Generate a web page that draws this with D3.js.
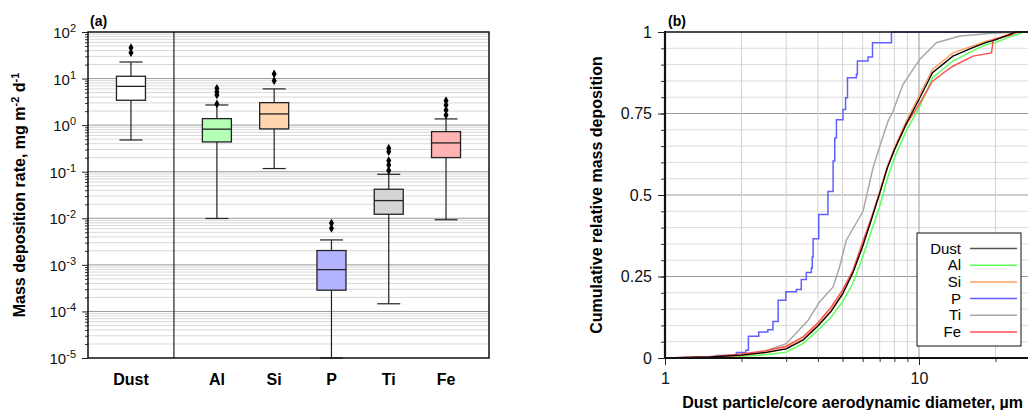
<!DOCTYPE html>
<html>
<head>
<meta charset="utf-8">
<script src="https://cdn.jsdelivr.net/npm/d3@7"></script>
<style>
  body { margin: 0; background: #fff; }
  svg { font-family: "Liberation Sans", Arial, sans-serif; }
</style>
</head>
<body>
<svg id="chart" width="1028" height="410"></svg>
<script>
// ---- panel (a): deposition rate box plots ----
const elements = ["Dust", "Al", "Si", "P", "Ti", "Fe"];
const slots = [0, 1.5, 2.5, 3.5, 4.5, 5.5];
const boxFill = ["#ffffff", "#b3ffb3", "#ffd6b0", "#b3b3ff", "#d4d4d4", "#ffb3b3"];
const whiskerLow = [0.48, 0.0099, 0.117, 0.00001, 0.000146, 0.0093];
const q1 = [3.42, 0.436, 0.83, 0.000286, 0.0122, 0.201];
const median = [6.8, 0.82, 1.74, 0.00079, 0.024, 0.415];
const q3 = [11.2, 1.38, 3.04, 0.00203, 0.042, 0.726];
const whiskerHigh = [22.7, 2.71, 6.0, 0.00343, 0.088, 1.36];
const outliers = [
  [36, 46],
  [2.85, 4.45, 5.2, 6.2],
  [9.0, 12.6],
  [0.0061, 0.0079],
  [0.106, 0.14, 0.173, 0.27, 0.32],
  [1.65, 2.1, 2.7, 3.35]
];
const decades = [-5, -4, -3, -2, -1, 0, 1, 2];

// ---- panel (b): cumulative relative mass deposition ----
const seriesNames = ["Dust", "Al", "Si", "P", "Ti", "Fe"];
const seriesColors = ["#000000", "#5cff5c", "#ffa060", "#6060ff", "#a8a8a8", "#ff5050"];
const dDust = [1, 1.5, 2, 2.5, 3, 3.5, 4, 4.5, 5, 5.5, 6, 6.5, 7, 7.5, 8, 8.9, 10, 11.3, 13.6, 16.3, 18.4, 20, 22.8, 24, 30];
const fDust = [0, 0.003, 0.009, 0.017, 0.028, 0.055, 0.098, 0.142, 0.196, 0.262, 0.342, 0.425, 0.505, 0.582, 0.638, 0.718, 0.793, 0.875, 0.926, 0.952, 0.968, 0.976, 0.993, 1, 1];
const dAl = [1, 1.5, 2, 2.5, 3, 3.5, 4, 4.5, 5, 5.5, 6, 6.5, 7, 7.5, 8, 8.9, 10, 11.3, 13.6, 16.3, 18.4, 20, 22.8, 26, 30];
const fAl = [0, 0.001, 0.005, 0.01, 0.018, 0.045, 0.085, 0.125, 0.172, 0.23, 0.31, 0.39, 0.465, 0.55, 0.614, 0.696, 0.767, 0.86, 0.911, 0.942, 0.962, 0.968, 0.985, 1, 1];
const dSi = [1, 1.5, 2, 2.5, 3, 3.5, 4, 4.5, 5, 5.5, 6, 6.5, 7, 7.5, 8, 8.9, 10, 11.3, 13.6, 16.3, 18.4, 20, 22.8, 23.8, 30];
const fSi = [0, 0.002, 0.008, 0.016, 0.03, 0.058, 0.102, 0.145, 0.2, 0.265, 0.345, 0.43, 0.51, 0.585, 0.644, 0.726, 0.803, 0.885, 0.936, 0.957, 0.972, 0.979, 0.995, 1, 1];
const dP = [1, 1.3, 1.6, 1.91, 2.08, 2.13, 2.34, 2.54, 2.66, 2.79, 2.99, 3.29, 3.44, 3.6, 3.77, 3.8, 3.83, 4.03, 4.38, 4.59, 4.66, 4.73, 5.02, 5.14, 5.23, 5.67, 5.72, 6.3, 6.56, 7.79, 30];
const fP = [0, 0.003, 0.008, 0.017, 0.024, 0.067, 0.08, 0.087, 0.112, 0.177, 0.203, 0.21, 0.241, 0.262, 0.275, 0.31, 0.366, 0.44, 0.511, 0.604, 0.675, 0.731, 0.762, 0.798, 0.86, 0.87, 0.911, 0.923, 0.967, 1, 1];
const dTi = [1, 1.5, 2, 2.4, 3, 3.66, 4.06, 4.59, 4.87, 5.18, 6.02, 6.59, 7.11, 7.55, 7.9, 8.65, 10.06, 11.7, 14.5, 19.5, 25, 30];
const fTi = [0, 0.004, 0.01, 0.018, 0.044, 0.116, 0.172, 0.218, 0.28, 0.362, 0.45, 0.583, 0.665, 0.726, 0.757, 0.839, 0.916, 0.967, 0.988, 0.996, 1, 1];
const dFe = [1, 1.5, 2, 2.5, 3, 3.5, 4, 4.5, 5, 5.5, 6, 6.5, 7, 7.5, 8, 8.9, 10, 11.3, 12.5, 13.6, 16.3, 19.3, 19.6, 22.8, 24.5, 30];
const fFe = [0, 0.004, 0.012, 0.022, 0.036, 0.065, 0.108, 0.155, 0.208, 0.27, 0.355, 0.43, 0.505, 0.585, 0.64, 0.716, 0.777, 0.849, 0.875, 0.895, 0.926, 0.936, 0.977, 0.99, 1, 1];
const fractionTicks = [0, 0.25, 0.5, 0.75, 1];

const svg = d3.select("#chart");

// ================= panel (a) =================
const A = { left: 88, right: 489, top: 32, bottom: 358 };

const xa = d3.scaleLinear().domain([-0.75, 6.25]).range([A.left, A.right]);
const ya = d3.scaleLog().domain([1e-5, 1e2]).range([A.bottom, A.top]);

const ga = svg.append("g");

// grid: minor then major
const minorA = [];
decades.slice(0, -1).forEach(e => {
  for (let m = 2; m <= 9; m++) minorA.push(m * Math.pow(10, e));
});
ga.selectAll(".minA").data(minorA).enter().append("line")
  .attr("x1", A.left).attr("x2", A.right)
  .attr("y1", d => ya(d)).attr("y2", d => ya(d))
  .attr("stroke", "#d8d8d8").attr("stroke-width", 1);
ga.selectAll(".majA").data(decades.slice(1, -1)).enter().append("line")
  .attr("x1", A.left).attr("x2", A.right)
  .attr("y1", d => ya(Math.pow(10, d))).attr("y2", d => ya(Math.pow(10, d)))
  .attr("stroke", "#9a9a9a").attr("stroke-width", 1);

// divider between dust and elements
ga.append("line")
  .attr("x1", xa(0.75)).attr("x2", xa(0.75))
  .attr("y1", A.top).attr("y2", A.bottom)
  .attr("stroke", "#222").attr("stroke-width", 1.2);

// axis ticks
ga.append("g").attr("transform", `translate(${A.left},0)`)
  .call(d3.axisLeft(ya).tickValues(minorA).tickSize(3).tickFormat(""))
  .call(g => g.select(".domain").remove())
  .selectAll("line").attr("stroke", "#333");
ga.append("g").attr("transform", `translate(${A.left},0)`)
  .call(d3.axisLeft(ya).tickValues(decades.map(e => Math.pow(10, e))).tickSize(6).tickFormat(""))
  .call(g => g.select(".domain").remove())
  .selectAll("line").attr("stroke", "#222");

// tick labels 10^n
const labA = ga.selectAll(".labA").data(decades).enter().append("text")
  .attr("x", A.left - 12)
  .attr("y", d => ya(Math.pow(10, d)) + 6)
  .attr("text-anchor", "end")
  .style("font-size", "15px")
  .attr("fill", "#111");
labA.append("tspan").text("10");
labA.append("tspan").attr("dy", -6).style("font-size", "11px").text(d => d);

// boxes
const boxW = 29, capW = 23;
const boxes = ga.selectAll(".box").data(elements).enter().append("g");
boxes.append("line")
  .attr("x1", (d, i) => xa(slots[i])).attr("x2", (d, i) => xa(slots[i]))
  .attr("y1", (d, i) => ya(whiskerLow[i])).attr("y2", (d, i) => ya(whiskerHigh[i]))
  .attr("stroke", "#222").attr("stroke-width", 1.2);
boxes.append("line")
  .attr("x1", (d, i) => xa(slots[i]) - capW / 2).attr("x2", (d, i) => xa(slots[i]) + capW / 2)
  .attr("y1", (d, i) => ya(whiskerLow[i])).attr("y2", (d, i) => ya(whiskerLow[i]))
  .attr("stroke", "#222").attr("stroke-width", 1.2);
boxes.append("line")
  .attr("x1", (d, i) => xa(slots[i]) - capW / 2).attr("x2", (d, i) => xa(slots[i]) + capW / 2)
  .attr("y1", (d, i) => ya(whiskerHigh[i])).attr("y2", (d, i) => ya(whiskerHigh[i]))
  .attr("stroke", "#222").attr("stroke-width", 1.2);
boxes.append("rect")
  .attr("x", (d, i) => xa(slots[i]) - boxW / 2)
  .attr("y", (d, i) => ya(q3[i]))
  .attr("width", boxW)
  .attr("height", (d, i) => ya(q1[i]) - ya(q3[i]))
  .attr("fill", (d, i) => boxFill[i])
  .attr("stroke", "#222").attr("stroke-width", 1.3);
boxes.append("line")
  .attr("x1", (d, i) => xa(slots[i]) - boxW / 2).attr("x2", (d, i) => xa(slots[i]) + boxW / 2)
  .attr("y1", (d, i) => ya(median[i])).attr("y2", (d, i) => ya(median[i]))
  .attr("stroke", "#222").attr("stroke-width", 1.3);
boxes.each(function (d, i) {
  d3.select(this).selectAll("path").data(outliers[i]).enter().append("path")
    .attr("d", d3.symbol().type(d3.symbolDiamond).size(22))
    .attr("transform", v => `translate(${xa(slots[i])},${ya(v)})`)
    .attr("fill", "#000");
});

// frame
ga.append("rect")
  .attr("x", A.left).attr("y", A.top)
  .attr("width", A.right - A.left).attr("height", A.bottom - A.top)
  .attr("fill", "none").attr("stroke", "#111").attr("stroke-width", 1.5);

// category labels
ga.selectAll(".cat").data(elements).enter().append("text")
  .attr("x", (d, i) => xa(slots[i]))
  .attr("y", 385)
  .attr("text-anchor", "middle")
  .style("font-size", "16px").style("font-weight", "bold")
  .text(d => d);

// y label
const ylabA = ga.append("text")
  .attr("transform", `translate(25,${(A.top + A.bottom) / 2}) rotate(-90)`)
  .attr("text-anchor", "middle")
  .style("font-size", "16px").style("font-weight", "bold");
ylabA.append("tspan").text("Mass deposition rate, mg m");
ylabA.append("tspan").attr("dy", -6).style("font-size", "11px").text("-2");
ylabA.append("tspan").attr("dy", 6).text(" d");
ylabA.append("tspan").attr("dy", -6).style("font-size", "11px").text("-1");

ga.append("text").attr("x", 90).attr("y", 26)
  .style("font-size", "14px").style("font-weight", "bold").text("(a)");

// ================= panel (b) =================
const B = { left: 665, top: 32, bottom: 358 };
const xb = d3.scaleLog().domain([1, 30]).range([B.left, B.left + 254 * Math.log10(30)]);
const yb = d3.scaleLinear().domain([0, 1]).range([B.bottom, B.top]);
B.right = xb(30);

const gb = svg.append("g");

const fracGrid = d3.range(1, 20).map(i => i * 0.05);
gb.selectAll(".hb").data(fracGrid).enter().append("line")
  .attr("x1", B.left).attr("x2", B.right)
  .attr("y1", d => yb(d)).attr("y2", d => yb(d))
  .attr("stroke", d => Math.abs(d * 4 - Math.round(d * 4)) < 1e-6 ? "#9a9a9a" : "#dcdcdc")
  .attr("stroke-width", 1);

const dMinor = [2, 3, 4, 5, 6, 7, 8, 9, 20];
gb.selectAll(".vb").data(dMinor).enter().append("line")
  .attr("x1", d => xb(d)).attr("x2", d => xb(d))
  .attr("y1", B.top).attr("y2", B.bottom)
  .attr("stroke", "#d4d4d4").attr("stroke-width", 1);
gb.append("line")
  .attr("x1", xb(10)).attr("x2", xb(10))
  .attr("y1", B.top).attr("y2", B.bottom)
  .attr("stroke", "#9a9a9a").attr("stroke-width", 1);

// curves
svg.append("defs").append("clipPath").attr("id", "clipB")
  .append("rect").attr("x", B.left).attr("y", B.top - 1)
  .attr("width", B.right - B.left).attr("height", B.bottom - B.top + 1);

const seriesD = [dDust, dAl, dSi, dP, dTi, dFe];
const seriesF = [fDust, fAl, fSi, fP, fTi, fFe];
const drawOrder = [3, 4, 1, 2, 5, 0];
drawOrder.forEach(k => {
  const pts = seriesD[k].map((d, j) => [d, seriesF[k][j]]);
  const line = d3.line()
    .x(p => xb(p[0])).y(p => yb(p[1]))
    .curve(seriesNames[k] === "P" ? d3.curveStepAfter : d3.curveLinear);
  gb.append("path").datum(pts)
    .attr("clip-path", "url(#clipB)")
    .attr("fill", "none")
    .attr("stroke", seriesColors[k])
    .attr("stroke-width", seriesNames[k] === "Dust" ? 1.3 : 1.5)
    .attr("d", line);
});

// axes
gb.append("line").attr("x1", B.left).attr("x2", B.right)
  .attr("y1", B.top).attr("y2", B.top).attr("stroke", "#111").attr("stroke-width", 1.5);

gb.append("g").attr("transform", `translate(${B.left},0)`)
  .call(d3.axisLeft(yb).tickValues(fracGrid).tickSize(4).tickFormat(""))
  .call(g => g.select(".domain").remove())
  .selectAll("line").attr("stroke", "#333");
gb.append("g").attr("transform", `translate(${B.left},0)`)
  .call(d3.axisLeft(yb).tickValues(fractionTicks).tickSize(7).tickPadding(6).tickFormat(d3.format("")))
  .call(g => g.select(".domain").remove())
  .call(g => g.selectAll("text").style("font-size", "16px").attr("fill", "#111")
    .attr("font-family", "Liberation Sans, Arial, sans-serif"))
  .selectAll("line").attr("stroke", "#222");

gb.append("g").attr("transform", `translate(0,${B.bottom})`)
  .call(d3.axisBottom(xb).tickValues(dMinor).tickSize(4).tickFormat(""))
  .call(g => g.select(".domain").remove())
  .selectAll("line").attr("stroke", "#333");
gb.append("g").attr("transform", `translate(0,${B.bottom})`)
  .call(d3.axisBottom(xb).tickValues([1, 10]).tickSize(7).tickPadding(8).tickFormat(d3.format("")))
  .call(g => g.select(".domain").remove())
  .call(g => g.selectAll("text").style("font-size", "16px").attr("fill", "#111")
    .attr("font-family", "Liberation Sans, Arial, sans-serif"))
  .selectAll("line").attr("stroke", "#222");

gb.append("line").attr("x1", B.left).attr("x2", B.left)
  .attr("y1", B.top - 1).attr("y2", B.bottom + 1).attr("stroke", "#111").attr("stroke-width", 2.2);
gb.append("line").attr("x1", B.left).attr("x2", B.right)
  .attr("y1", B.bottom).attr("y2", B.bottom).attr("stroke", "#111").attr("stroke-width", 2.2);

gb.append("text")
  .attr("transform", `translate(602,${(B.top + B.bottom) / 2}) rotate(-90)`)
  .attr("text-anchor", "middle")
  .style("font-size", "16px").style("font-weight", "bold")
  .text("Cumulative relative mass deposition");
gb.append("text")
  .attr("x", (B.left + B.right) / 2).attr("y", 408)
  .attr("text-anchor", "middle")
  .style("font-size", "16px").style("font-weight", "bold")
  .text("Dust particle/core aerodynamic diameter, µm");
gb.append("text").attr("x", 668).attr("y", 26)
  .style("font-size", "14px").style("font-weight", "bold").text("(b)");

// legend
const leg = gb.append("g").attr("transform", "translate(917,233)");
leg.append("rect").attr("width", 104).attr("height", 113)
  .attr("fill", "#fff").attr("stroke", "#111").attr("stroke-width", 1);
const rows = leg.selectAll(".row").data(seriesNames).enter().append("g")
  .attr("transform", (d, i) => `translate(0,${15.5 + i * 16.7})`);
rows.append("text").attr("x", 44).attr("y", 5)
  .attr("text-anchor", "end").style("font-size", "15px").text(d => d);
rows.append("line").attr("x1", 53).attr("x2", 100)
  .attr("stroke", (d, i) => i === 0 ? "#555" : seriesColors[i])
  .attr("stroke-width", 1.5);
</script>
</body>
</html>
